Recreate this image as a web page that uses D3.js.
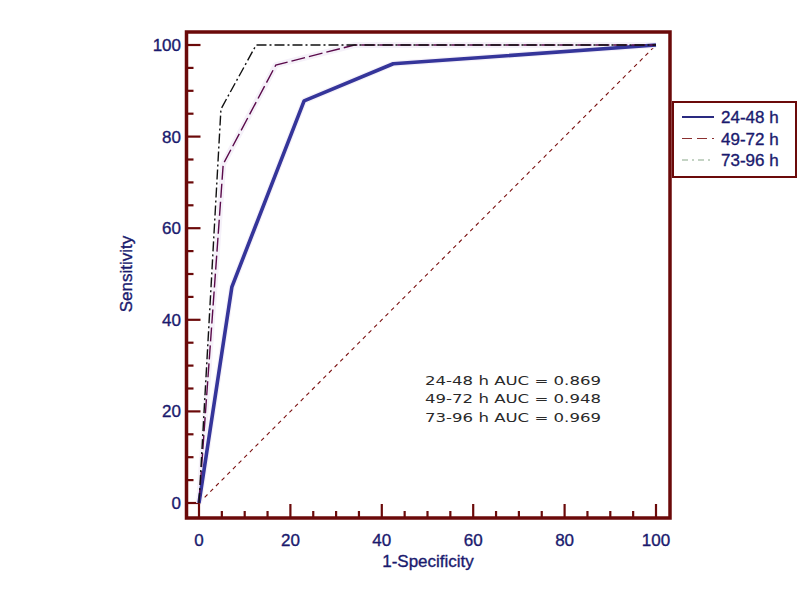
<!DOCTYPE html>
<html><head><meta charset="utf-8">
<script src="https://cdn.jsdelivr.net/npm/d3@7"></script>
<style>body{margin:0;background:#fff}svg{display:block}</style>
</head><body>
<script>
// ---- data ----
const seriesNames = ["24-48 h", "49-72 h", "73-96 h"];
const fpr_24_48 = [0, 7.2, 23.0, 42.5, 100];
const tpr_24_48 = [0, 47.2, 87.8, 95.9, 100];
const fpr_49_72 = [0, 5.3, 16.8, 34, 100];
const tpr_49_72 = [0, 74, 95.6, 100, 100];
const fpr_73_96 = [0, 4.8, 12.5, 100];
const tpr_73_96 = [0, 86, 100, 100];
const aucLabels = ["24-48 h AUC = 0.869", "49-72 h AUC = 0.948", "73-96 h AUC = 0.969"];
const xTicks = [0, 20, 40, 60, 80, 100];
const yTicks = [0, 20, 40, 60, 80, 100];
const minorTicks = d3.range(0, 101, 5);

const W = 799, H = 600;
const svg = d3.select("body").append("svg").attr("width", W).attr("height", H);
const x = d3.scaleLinear().domain([0, 100]).range([199, 656]);
const y = d3.scaleLinear().domain([0, 100]).range([503, 45]);
const frame = {l: 186.5, r: 670, t: 32, b: 518};
const maroon = "#6b0a0a", navy = "#1a1a6e";

// ticks
const tg = svg.append("g").attr("stroke", maroon).attr("stroke-width", 2.2);
minorTicks.forEach(v => {
  const major = v % 20 === 0;
  tg.append("line").attr("x1", x(v)).attr("x2", x(v)).attr("y1", frame.b).attr("y2", frame.b - (major ? 14 : 7));
  tg.append("line").attr("y1", y(v)).attr("y2", y(v)).attr("x1", frame.l).attr("x2", frame.l + (major ? 14 : 7));
});

// tick labels
const font = "'Liberation Sans', Arial, sans-serif";
const lab = sel => sel.attr("font-family", font).attr("font-size", 17).attr("fill", navy)
  .attr("stroke", navy).attr("stroke-width", 0.35);
svg.append("g").selectAll("text").data(xTicks).join("text")
  .attr("x", d => x(d)).attr("y", 546).attr("text-anchor", "middle").call(lab).text(d => d);
svg.append("g").selectAll("text").data(yTicks).join("text")
  .attr("x", 181).attr("y", d => y(d) + 6).attr("text-anchor", "end").call(lab).text(d => d);

svg.append("text").attr("x", 428).attr("y", 567).attr("text-anchor", "middle").call(lab).text("1-Specificity");
svg.append("text").attr("transform", "translate(132,274) rotate(-90)").attr("text-anchor", "middle")
  .call(lab).text("Sensitivity");

// diagonal
const line = d3.line().x(d => x(d[0])).y(d => y(d[1]));
svg.append("path").attr("d", line([[0, 0], [100, 100]])).attr("fill", "none")
  .attr("stroke", "#7a1010").attr("stroke-width", 1.1).attr("stroke-dasharray", "4,4");

const pts = (xs, ys) => xs.map((v, i) => [v, ys[i]]);
const s1 = pts(fpr_24_48, tpr_24_48), s2 = pts(fpr_49_72, tpr_49_72), s3 = pts(fpr_73_96, tpr_73_96);

// faint halos
[s1, s2].forEach(s => svg.append("path").attr("d", line(s)).attr("fill", "none")
  .attr("stroke", "#f5f1f9").attr("stroke-width", 6).attr("stroke-linejoin", "round"));

svg.append("path").attr("d", line(s1)).attr("fill", "none").attr("stroke", "#35359a")
  .attr("stroke-width", 3.6).attr("stroke-linejoin", "round");
svg.append("path").attr("d", line(s2)).attr("fill", "none").attr("stroke", "#5a0a4a")
  .attr("stroke-width", 1.4).attr("stroke-dasharray", "14,4");
svg.append("path").attr("d", line(s3)).attr("fill", "none").attr("stroke", "#111")
  .attr("stroke-width", 1.4).attr("stroke-dasharray", "10,3,2,3");

// frame
svg.append("rect").attr("x", frame.l).attr("y", frame.t).attr("width", frame.r - frame.l)
  .attr("height", frame.b - frame.t).attr("fill", "none").attr("stroke", maroon).attr("stroke-width", 3.5);

// AUC text
svg.append("g").selectAll("text").data(aucLabels).join("text")
  .attr("x", 425).attr("y", (d, i) => 385 + i * 18.3)
  .attr("font-family", "'DejaVu Sans', sans-serif").attr("font-size", 12.5).attr("fill", "#2a2a2a")
  .attr("textLength", 176).attr("lengthAdjust", "spacingAndGlyphs").text(d => d);

// legend
const lg = svg.append("g");
lg.append("rect").attr("x", 673).attr("y", 102).attr("width", 123).attr("height", 75)
  .attr("fill", "#fff").attr("stroke", maroon).attr("stroke-width", 2);
const legStyles = [
  {c: "#2a2a80", w: 2, dash: null},
  {c: "#8b3030", w: 1.2, dash: "10,5"},
  {c: "#8aa88a", w: 1.2, dash: "6,4,2,4"}
];
seriesNames.forEach((n, i) => {
  const yy = 117 + i * 21.5;
  lg.append("line").attr("x1", 682).attr("x2", 714).attr("y1", yy).attr("y2", yy)
    .attr("stroke", legStyles[i].c).attr("stroke-width", legStyles[i].w)
    .attr("stroke-dasharray", legStyles[i].dash);
  lg.append("text").attr("x", 721).attr("y", yy + 6).call(lab).text(n);
});
</script>
</body></html>
